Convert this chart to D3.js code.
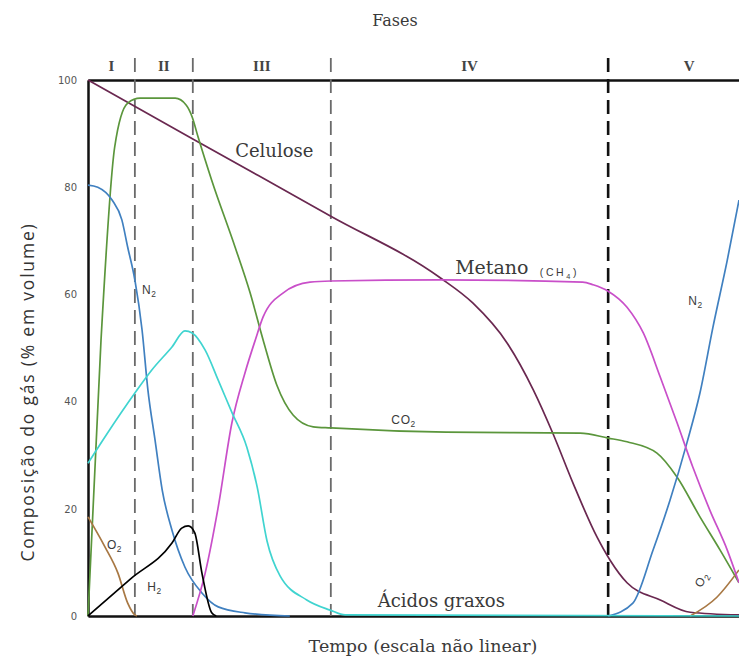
<!DOCTYPE html>
<html>
<head>
<meta charset="utf-8">
<script src="https://cdn.jsdelivr.net/npm/d3@7"></script>
<style>
    body { margin: 0; background: #fff; }
    .serif { font-family: "DejaVu Serif", "Liberation Serif", serif; fill: #3a3a3a; }
    .sans { font-family: "Liberation Sans", Arial, sans-serif; fill: #3a3a3a; }
    .y-axis text { font-family: "DejaVu Sans", sans-serif; font-size: 10px; fill: #555; }
    .curve { fill: none; stroke-width: 1.7; stroke-linejoin: round; }
</style>
</head>
<body>
<div id="chart"></div>
<script>
// Fases do aterro e limites no eixo do tempo (escala arbitrária 0-100, não linear)
const phases = ["I", "II", "III", "IV", "V"];
const phaseBounds = [0, 7.2, 16.1, 37.3, 79.9, 104.8];
const yTicks = [0, 20, 40, 60, 80, 100];

// Curvas: [tempo, % em volume]
const celulose = [[0, 100], [16.1, 89.0], [37.3, 74.6], [54.1, 63.1], [59.1, 58.4], [64.4, 50.9],
    [68.4, 42.2], [71.4, 34.1], [74.5, 24.8], [78.2, 14.7], [80.2, 10.4], [82.8, 6.2],
    [87.9, 3.0], [92.5, 0.7], [100, 0.2]];
const co2 = [[0, 0], [2.0, 51.5], [4.1, 87.5], [6.1, 95.7], [8.0, 96.6], [13.4, 96.6], [15.1, 95.3],
    [16.0, 93.1], [16.9, 89.4], [19.0, 81.3], [22.6, 68.8], [24.9, 60.3], [26.9, 51.5], [29.0, 43.1],
    [31.5, 37.5], [34.6, 35.3], [37.3, 35.1], [55.0, 34.3], [75.6, 34.1], [79.9, 33.2], [82.8, 32.5],
    [87.4, 30.4], [90.5, 25.9], [94.0, 18.5], [97.1, 12.3], [100, 6.2]];
const metano = [[16.1, 0], [18.0, 8.0], [20.0, 20.3], [22.1, 36.0], [24.1, 45.3], [25.7, 51.5],
    [26.9, 55.8], [30.0, 60.3], [34.1, 62.3], [37.3, 62.5], [54.1, 62.7], [76.0, 62.3], [77.6, 61.8],
    [79.9, 60.6], [82.8, 57.6], [85.3, 52.8], [87.9, 44.6], [90.5, 36.0], [92.9, 27.8], [95.5, 19.8],
    [98.2, 12.3], [100, 6.2]];
const n2Inicio = [[0, 80.4], [1.5, 80.0], [3.7, 77.6], [5.2, 73.9], [6.1, 68.8], [7.2, 62.7], [8.3, 53.4],
    [9.2, 42.2], [10.3, 32.8], [11.4, 23.5], [12.9, 16.0], [14.9, 9.1], [17.5, 4.3], [20.0, 1.7],
    [24.1, 0.6], [31.0, 0]];
const n2Fim = [[79.9, 0], [83.7, 2.4], [86.8, 12.3], [89.4, 21.6], [92.0, 32.3], [94.0, 41.6],
    [96.0, 53.9], [98.2, 66.4], [100, 77.6]];
const acidos = [[0, 28.5], [2.6, 33.4], [7.2, 41.6], [9.8, 45.9], [12.9, 50.2], [14.9, 53.2], [16.0, 52.8],
    [18.0, 49.6], [20.0, 44.0], [22.1, 38.0], [24.4, 31.5], [26.0, 24.0], [27.5, 14.0], [29.5, 7.5],
    [33.6, 3.0], [37.2, 1.1], [39.5, 0.2], [100, 0]];
const o2Inicio = [[0, 18.5], [2.6, 12.9], [4.6, 8.0], [6.1, 2.4], [7.2, 0.2], [7.5, 0]];
const o2Fim = [[92.5, 0], [96.6, 3.5], [100, 8.6]];
const h2 = [[0, 0], [6.5, 6.9], [12.9, 13.6], [14.4, 16.4], [15.4, 16.8], [16.4, 15.5], [17.5, 8.0],
    [19.0, 0.6], [19.7, 0]];

const width = 739, height = 659;
const margin = {top: 80, right: 0, bottom: 43, left: 88};
const innerWidth = width - margin.left - margin.right;
const innerHeight = height - margin.top - margin.bottom;

const svg = d3.select("#chart")
    .append("svg")
    .attr("width", width)
    .attr("height", height);

const chart = svg.append("g")
    .attr("transform", `translate(${margin.left}, ${margin.top})`);

const x = d3.scaleLinear().domain([0, 100]).range([0, innerWidth]);
const y = d3.scaleLinear().domain([0, 100]).range([innerHeight, 0]);

// Título das fases
svg.append("text")
    .attr("class", "serif")
    .attr("x", 395)
    .attr("y", 26)
    .attr("text-anchor", "middle")
    .style("font-size", "16px")
    .text("Fases");

// Números romanos de cada fase
chart.selectAll(".phase-label")
    .data(phases)
    .enter()
    .append("text")
    .attr("class", "phase-label serif")
    .attr("x", (d, i) => x((phaseBounds[i] + phaseBounds[i + 1]) / 2))
    .attr("y", -9)
    .attr("text-anchor", "middle")
    .style("font-family", "'Liberation Serif', serif")
    .style("font-weight", "bold")
    .style("font-size", "15px")
    .style("fill", "#444")
    .text(d => d);

// Eixo Y
chart.append("g")
    .attr("class", "y-axis")
    .call(d3.axisLeft(y).tickValues(yTicks).tickSize(0).tickPadding(11))
    .call(g => g.select(".domain").attr("stroke", "#111").attr("stroke-width", 2.5));

// Eixo X (sem marcas) e linha superior
chart.append("g")
    .attr("class", "x-axis")
    .attr("transform", `translate(0, ${innerHeight})`)
    .call(d3.axisBottom(x).tickValues([]).tickSizeOuter(0))
    .call(g => g.select(".domain").attr("stroke", "#111").attr("stroke-width", 2.5));

chart.append("g")
    .attr("class", "top-axis")
    .call(d3.axisTop(x).tickValues([]).tickSizeOuter(0))
    .call(g => g.select(".domain").attr("stroke", "#111").attr("stroke-width", 2.5));

// Divisões tracejadas entre fases
const dividers = phaseBounds.slice(1, 5);
chart.selectAll(".divider")
    .data(dividers)
    .enter()
    .append("line")
    .attr("class", "divider")
    .attr("x1", d => x(d))
    .attr("x2", d => x(d))
    .attr("y1", -22)
    .attr("y2", innerHeight)
    .attr("stroke", (d, i) => i === 3 ? "#111" : "#6a6a6a")
    .attr("stroke-width", (d, i) => i === 3 ? 2.6 : 1.8)
    .attr("stroke-dasharray", "14,7");

// Curvas dos gases
const line = d3.line()
    .x(d => x(d[0]))
    .y(d => y(d[1]))
    .curve(d3.curveMonotoneX);

const series = [
    {data: celulose, color: "#6a2850", w: 1.7},
    {data: co2, color: "#5b963c", w: 1.7},
    {data: n2Inicio, color: "#4080c0", w: 1.7},
    {data: n2Fim, color: "#4080c0", w: 1.7},
    {data: o2Inicio, color: "#a87844", w: 1.6},
    {data: o2Fim, color: "#a87844", w: 1.6},
    {data: metano, color: "#c94fc9", w: 1.8},
    {data: acidos, color: "#40d4d0", w: 2.0},
    {data: h2, color: "#000", w: 2.6}
];

chart.selectAll(".curve")
    .data(series)
    .enter()
    .append("path")
    .attr("class", "curve")
    .attr("d", d => line(d.data))
    .attr("stroke", d => d.color)
    .attr("stroke-width", d => d.w);

// Rótulos das curvas
function label(t, v, txt, cls, size) {
    return chart.append("text")
        .attr("class", cls)
        .attr("x", x(t))
        .attr("y", y(v))
        .style("font-size", size + "px")
        .text(txt);
}

// Fórmula química com índice (subscrito)
function chem(t, v, base, sub, after, size) {
    const el = label(t, v, base, "sans", size)
        .style("letter-spacing", "0.6px");
    el.append("tspan").attr("dy", 3).style("font-size", (size * 0.7) + "px").text(sub);
    if (after) el.append("tspan").attr("dy", -3).text(after);
    return el;
}

label(22.6, 85.6, "Celulose", "serif", 18);
label(56.4, 63.8, "Metano", "serif", 19);
chem(69.4, 63.4, "(CH", "4", ")", 10.5).style("letter-spacing", "2.6px");
label(44.5, 1.7, "Ácidos graxos", "serif", 18);
chem(8.3, 60.1, "N", "2", null, 12);
chem(92.2, 58.0, "N", "2", null, 12);
chem(46.6, 35.8, "CO", "2", null, 12);
chem(2.9, 12.5, "O", "2", null, 12);
chem(9.1, 4.7, "H", "2", null, 12);
chem(0, 0, "O", "2", null, 12)
    .attr("x", 0).attr("y", 0)
    .attr("transform", `translate(${x(94.2)}, ${y(5.2)}) rotate(-60)`);

// Títulos dos eixos
svg.append("text")
    .attr("class", "serif")
    .attr("x", 423)
    .attr("y", 652)
    .attr("text-anchor", "middle")
    .style("font-size", "17.5px")
    .text("Tempo (escala não linear)");

svg.append("text")
    .attr("transform", "translate(34, 392) rotate(-90)")
    .attr("text-anchor", "middle")
    .style("font-family", "'Open Sans', sans-serif")
    .style("font-size", "17.5px")
    .style("letter-spacing", "1.8px")
    .style("fill", "#333")
    .text("Composição do gás (% em volume)");
</script>
</body>
</html>
